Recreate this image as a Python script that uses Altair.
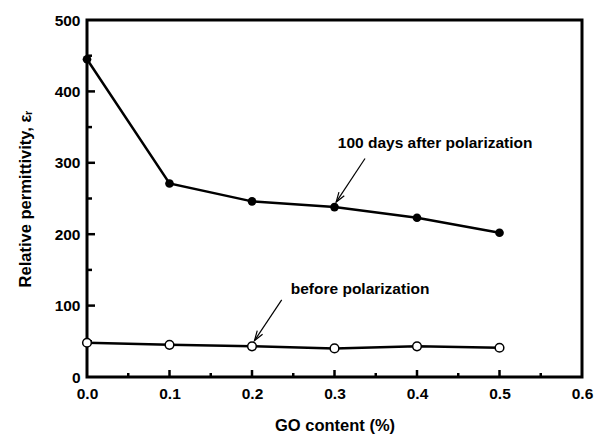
import altair as alt
import pandas as pd

# GO content (%) and relative permittivity for both series
go_content = [0.0, 0.1, 0.2, 0.3, 0.4, 0.5]
after_100_days = [445, 271, 246, 238, 223, 202]
before_pol = [48, 45, 43, 40, 43, 41]

x_major = [0.1, 0.2, 0.3, 0.4, 0.5]
x_minor = [0.05, 0.15, 0.25, 0.35, 0.45, 0.55]
y_major = [100, 200, 300, 400]
y_minor = [50, 150, 250, 350, 450]

# annotation labels and their arrows
ann_text = ["100 days after polarization", "before polarization"]
ann_tx = [0.422, 0.331]
ann_ty = [328, 123]
arr_x0 = [0.337, 0.236]
arr_y0 = [306, 108]
arr_x1 = [0.302, 0.203]
arr_y1 = [245, 51]

W, H = 495, 357
FONT = "Liberation Sans"

xs = alt.Scale(domain=[0, 0.6], nice=False)
ys = alt.Scale(domain=[0, 500], nice=False)

df = pd.DataFrame({"x": go_content, "after": after_100_days, "before": before_pol})

x_axis = alt.Axis(values=[0, 0.1, 0.2, 0.3, 0.4, 0.5, 0.6], format=".1f",
                  title="GO content (%)", labelFlush=False, labelOverlap=False,
                  labelPadding=9, titlePadding=16)
y_axis = alt.Axis(values=[0, 100, 200, 300, 400, 500], format="d",
                  title="Relative permittivity, εᵣ", labelPadding=7, titlePadding=21)

base = alt.Chart(df).encode(x=alt.X("x:Q", scale=xs, axis=x_axis))

line_after = base.mark_line(color="black", strokeWidth=2.5).encode(
    y=alt.Y("after:Q", scale=ys, axis=y_axis))
pts_after = base.mark_point(filled=True, color="black", size=75, opacity=1).encode(
    y=alt.Y("after:Q", scale=ys))
line_before = base.mark_line(color="black", strokeWidth=2.5).encode(
    y=alt.Y("before:Q", scale=ys))
pts_before = base.mark_point(filled=True, fill="white", stroke="black", strokeWidth=1.5,
                             size=75, opacity=1).encode(y=alt.Y("before:Q", scale=ys))

# inward tick marks
def xticks(vals, length):
    return alt.Chart(pd.DataFrame({"t": vals})).mark_rule(
        color="black", strokeWidth=2.5).encode(
        x=alt.X("t:Q", scale=xs), y=alt.value(H), y2=alt.value(H - length))

def yticks(vals, length):
    return alt.Chart(pd.DataFrame({"t": vals})).mark_rule(
        color="black", strokeWidth=2.5).encode(
        y=alt.Y("t:Q", scale=ys), x=alt.value(0), x2=alt.value(length))

ann = pd.DataFrame({"text": ann_text, "tx": ann_tx, "ty": ann_ty,
                    "x0": arr_x0, "y0": arr_y0, "x1": arr_x1, "y1": arr_y1})

labels = alt.Chart(ann).mark_text(font=FONT, fontWeight="bold", fontSize=15.5,
                                  color="black", align="center", baseline="middle").encode(
    x=alt.X("tx:Q", scale=xs), y=alt.Y("ty:Q", scale=ys), text="text:N")
arrow_lines = alt.Chart(ann).mark_rule(color="black", strokeWidth=1.2).encode(
    x=alt.X("x0:Q", scale=xs), y=alt.Y("y0:Q", scale=ys),
    x2="x1:Q", y2="y1:Q")
arrow_heads = alt.Chart(ann).mark_point(
    shape="M -0.33 1 L 0 0 L 0.33 1", filled=False, stroke="black", strokeWidth=1.2,
    size=380, angle=214, opacity=1).encode(
    x=alt.X("x1:Q", scale=xs), y=alt.Y("y1:Q", scale=ys))

chart = alt.layer(
    xticks(x_major, 7), xticks(x_minor, 4), yticks(y_major, 8), yticks(y_minor, 5),
    line_before, pts_before, line_after, pts_after,
    arrow_lines, arrow_heads, labels,
).properties(
    width=W, height=H,
    autosize=alt.AutoSizeParams(type="none"),
    padding={"left": 87, "top": 20, "right": 24, "bottom": 60},
    background="white",
).configure_view(
    stroke="black", strokeWidth=3
).configure_axis(
    domain=False, ticks=False, grid=False,
    labelFont=FONT, labelFontWeight="bold", labelFontSize=15.5, labelColor="black",
    titleFont=FONT, titleFontWeight="bold", titleFontSize=16.5, titleColor="black",
)

chart.save("out.html", embed_options={"renderer": "svg", "actions": False})
